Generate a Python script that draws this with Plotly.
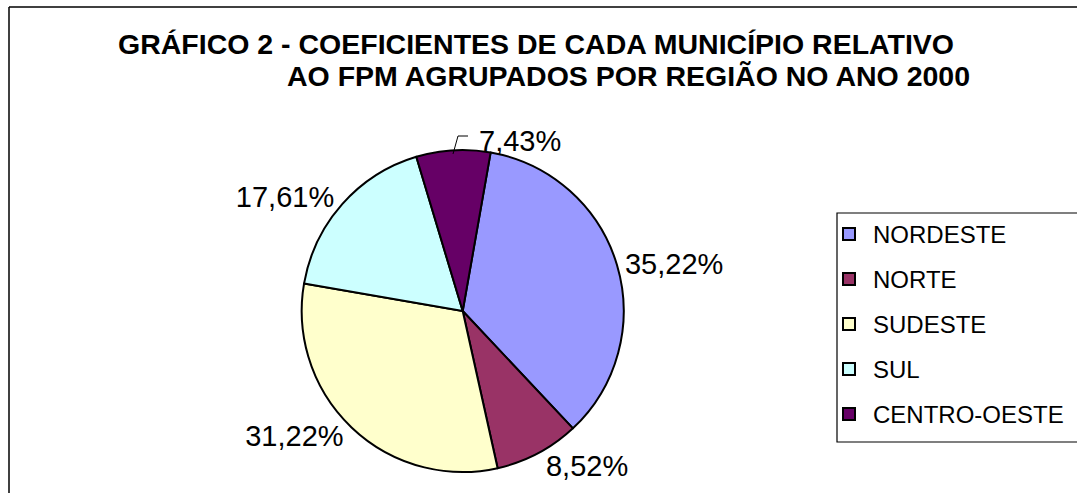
import plotly.graph_objects as go

W, H = 1077, 493

categories = ["NORDESTE", "NORTE", "SUDESTE", "SUL", "CENTRO-OESTE"]
values = [35.22, 8.52, 31.22, 17.61, 7.43]
colors = ["#9999FF", "#993366", "#FFFFCC", "#CCFFFF", "#660066"]
title_lines = ["GRÁFICO 2 - COEFICIENTES DE CADA MUNICÍPIO RELATIVO",
               "AO FPM AGRUPADOS POR REGIÃO NO ANO 2000"]

labels_txt = [f"{v:.2f}%".replace(".", ",") for v in values]

def px(x):
    return x / W

def py(y):
    return 1 - y / H

FONT = "Liberation Sans, Arial, sans-serif"

# pie geometry (pixels)
cx, cy, r = 462.7, 311.0, 161.0

# the smallest slice gets a label with a leader line (as in the original)
text_pos = ["outside"] * (len(values) - 1) + ["none"]

fig = go.Figure()
fig.add_trace(go.Pie(
    labels=categories,
    values=values,
    text=labels_txt,
    textinfo="text",
    textposition=text_pos,
    sort=False,
    direction="clockwise",
    rotation=10,
    marker=dict(colors=colors, line=dict(color="black", width=2)),
    textfont=dict(family=FONT, size=29, color="black"),
    domain=dict(x=[px(cx - r), px(cx + r)], y=[py(cy + r), py(cy - r)]),
    showlegend=False,
    hoverinfo="label+percent",
))

shapes = [
    dict(type="line", xref="paper", yref="paper", x0=px(9), x1=px(1080), y0=py(7), y1=py(7),
         line=dict(color="black", width=1.5)),
    dict(type="line", xref="paper", yref="paper", x0=px(9), x1=px(9), y0=py(7), y1=py(500),
         line=dict(color="black", width=1.5)),
    # legend box
    dict(type="rect", xref="paper", yref="paper", x0=px(837), x1=px(1090), y0=py(442), y1=py(213),
         line=dict(color="black", width=1.2), fillcolor="white", layer="below"),
    # leader line for the small slice label
    dict(type="path", xref="paper", yref="paper",
         path=f"M {px(453)},{py(154)} L {px(458)},{py(136)} L {px(468)},{py(136)}",
         line=dict(color="black", width=1)),
]
annotations = [
    dict(text=f"<b>{title_lines[0]}</b>", x=px(536), y=py(44), xref="paper", yref="paper",
         xanchor="center", yanchor="middle", showarrow=False,
         font=dict(family=FONT, size=28.5, color="black")),
    dict(text=f"<b>{title_lines[1]}</b>", x=px(628.5), y=py(76), xref="paper", yref="paper",
         xanchor="center", yanchor="middle", showarrow=False,
         font=dict(family=FONT, size=28.5, color="black")),
    dict(text=labels_txt[4], x=px(477), y=py(141), xref="paper", yref="paper",
         xanchor="left", yanchor="middle", showarrow=False,
         font=dict(family=FONT, size=29, color="black")),
]

for i, (name, col) in enumerate(zip(categories, colors)):
    yc = 234 + 45 * i
    shapes.append(dict(type="rect", xref="paper", yref="paper",
                       x0=px(843), x1=px(855), y0=py(yc + 6), y1=py(yc - 6),
                       line=dict(color="black", width=2), fillcolor=col))
    annotations.append(dict(text=name, x=px(871), y=py(yc), xref="paper", yref="paper",
                            xanchor="left", yanchor="middle", showarrow=False,
                            font=dict(family=FONT, size=24, color="black")))

fig.update_layout(
    width=W, height=H,
    margin=dict(l=0, r=0, t=0, b=0, pad=0),
    paper_bgcolor="white",
    plot_bgcolor="white",
    shapes=shapes,
    annotations=annotations,
)

fig.write_html("out.html",
               config={"displayModeBar": False},
               post_script="document.body.style.margin='0';document.body.style.overflow='hidden';")
